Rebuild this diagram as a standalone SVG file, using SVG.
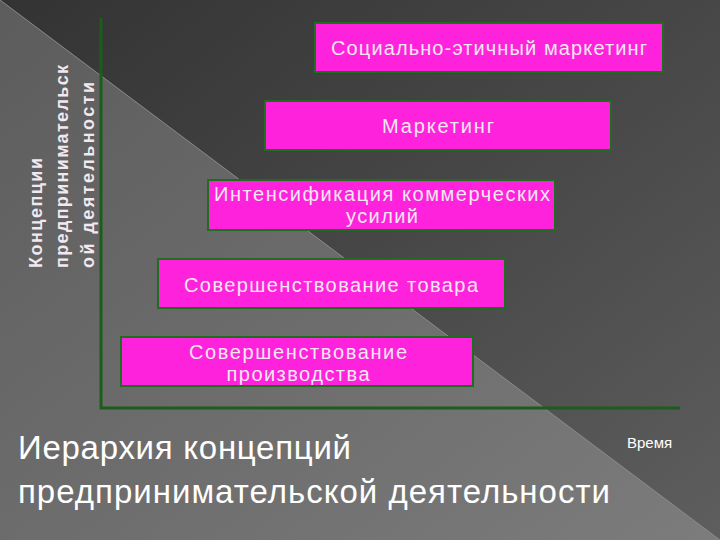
<svg xmlns="http://www.w3.org/2000/svg" width="720" height="540" viewBox="0 0 720 540">
<defs>
<linearGradient id="bg" x1="0" y1="0" x2="1" y2="1"><stop offset="0" stop-color="#333"/><stop offset="0.5" stop-color="#474747"/><stop offset="1" stop-color="#5e5e5e"/></linearGradient>
<linearGradient id="lt" x1="0" y1="0" x2="1" y2="1"><stop offset="0" stop-color="#5c5c5c"/><stop offset="1" stop-color="#7c7c7c"/></linearGradient>
<style>
.b{fill:#ff22dd;stroke:#1f6e1f;stroke-width:2}
.t{font-family:"Liberation Sans",Arial,sans-serif;font-size:20px;fill:#f2e8f0;text-anchor:middle}
.y{font-family:"Liberation Sans",Arial,sans-serif;font-size:18px;font-weight:bold;fill:#f2e8f0}
.w{font-family:"Liberation Sans",Arial,sans-serif;fill:#fff}
.ax{stroke:#1a5e1a;stroke-width:3;fill:none}
</style>
</defs>
<rect width="720" height="540" fill="url(#bg)"/>
<polygon points="0,0 720,540 0,540" fill="url(#lt)"/>
<line x1="0" y1="0" x2="720" y2="540" stroke="#8a8a8a" stroke-width="1"/>
<g id="connectors">
<path class="ax" d="M101,18 V408 H680"/>
</g>
<g id="n1"><rect class="b" x="315" y="23" width="348" height="49"/><text class="t" x="489" y="55" textLength="316">Социально-этичный маркетинг</text></g>
<g id="n2"><rect class="b" x="265" y="101" width="346" height="49"/><text class="t" x="438" y="133" textLength="112">Маркетинг</text></g>
<g id="n3"><rect class="b" x="208" y="180" width="347" height="50"/><text class="t" x="382" y="201" textLength="336">Интенсификация коммерческих</text><text class="t" x="382" y="223" textLength="72">усилий</text></g>
<g id="n4"><rect class="b" x="158" y="259" width="347" height="49"/><text class="t" x="331" y="292" textLength="294">Совершенствование товара</text></g>
<g id="n5"><rect class="b" x="121" y="337" width="352" height="49"/><text class="t" x="298" y="359" textLength="218">Совершенствование</text><text class="t" x="298" y="381" textLength="143">производства</text></g>
<g id="ylabel" transform="rotate(-90)">
<text class="y" x="-268" y="42" textLength="110">Концепции</text>
<text class="y" x="-268" y="68" textLength="203">предпринимательск</text>
<text class="y" x="-268" y="94" textLength="186">ой деятельности</text>
</g>
<text class="w" x="627" y="448" font-size="15">Время</text>
<text class="w" x="18" y="459" font-size="33" textLength="333">Иерархия концепций</text>
<text class="w" x="18" y="503" font-size="33" textLength="592">предпринимательской деятельности</text>
</svg>
